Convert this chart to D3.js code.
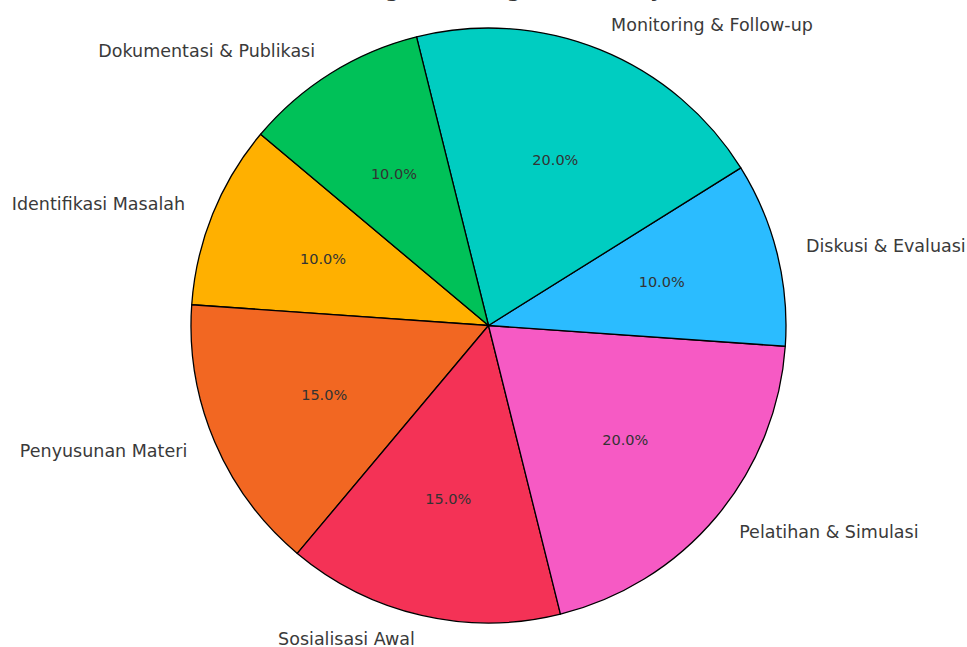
<!DOCTYPE html>
<html>
<head>
<meta charset="utf-8">
<script src="https://cdn.jsdelivr.net/npm/d3@7"></script>
<style>
  body { margin: 0; background: #fff; }
  svg { display: block; font-family: "DejaVu Sans", sans-serif; }
</style>
</head>
<body>
<script>
const categories = ['Identifikasi Masalah', 'Penyusunan Materi', 'Sosialisasi Awal',
  'Pelatihan & Simulasi', 'Diskusi & Evaluasi', 'Monitoring & Follow-up', 'Dokumentasi & Publikasi'];
const values = [10, 15, 15, 20, 10, 20, 10];
const colors = ['#FFB000', '#F26722', '#F43256', '#F65AC4', '#2BBCFF', '#00CDC1', '#00C158'];
const title = 'Distribusi Kegiatan Pengabdian Masyarakat';

const width = 967;
const height = 647;
const cx = 488.5, cy = 325.5, r = 297.5;
const startDeg = 140; // counter-clockwise from 3 o'clock

const svg = d3.select('body')
    .append('svg')
    .attr('width', width)
    .attr('height', height);

const data = categories.map((c, i) => ({ name: c, value: values[i], color: colors[i] }));
const total = d3.sum(values);

// d3 angles: clockwise from 12 o'clock, so go negative to run counter-clockwise
const rad = d => d * Math.PI / 180;
const pie = d3.pie()
    .value(d => d.value)
    .sort(null)
    .startAngle(rad(90 - startDeg))
    .endAngle(rad(90 - startDeg - 360));

const arcs = pie(data);
const arc = d3.arc().innerRadius(0).outerRadius(r);

const g = svg.append('g').attr('transform', `translate(${cx},${cy})`);

g.selectAll('path')
    .data(arcs)
    .enter()
    .append('path')
        .attr('d', arc)
        .attr('fill', d => d.data.color)
        .attr('stroke', '#000')
        .attr('stroke-width', 1.3)
        .attr('stroke-linejoin', 'round');

const mid = d => (d.startAngle + d.endAngle) / 2;

g.selectAll('text.pct')
    .data(arcs)
    .enter()
    .append('text')
        .attr('class', 'pct')
        .attr('x', d => Math.sin(mid(d)) * r * 0.6)
        .attr('y', d => -Math.cos(mid(d)) * r * 0.6)
        .attr('text-anchor', 'middle')
        .attr('dominant-baseline', 'central')
        .attr('font-size', '14.5px')
        .attr('fill', '#333')
        .text(d => (d.data.value / total * 100).toFixed(1) + '%');

// labels: 1.1r sideways, text box centre sits a bit tighter vertically
g.selectAll('text.label')
    .data(arcs)
    .enter()
    .append('text')
        .attr('class', 'label')
        .attr('x', d => Math.sin(mid(d)) * r * 1.1)
        .attr('y', d => -Math.cos(mid(d)) * r * 1.085 - 1)
        .attr('text-anchor', d => Math.sin(mid(d)) > 0 ? 'start' : 'end')
        .attr('dominant-baseline', 'central')
        .attr('font-size', '17.5px')
        .attr('fill', '#3a3a3a')
        .text(d => d.data.name);

// title sits mostly above the visible area
svg.append('text')
    .attr('x', cx)
    .attr('y', -3)
    .attr('text-anchor', 'middle')
    .attr('font-size', '20px')
    .attr('font-weight', 'bold')
    .attr('fill', '#333')
    .text(title);
</script>
</body>
</html>
